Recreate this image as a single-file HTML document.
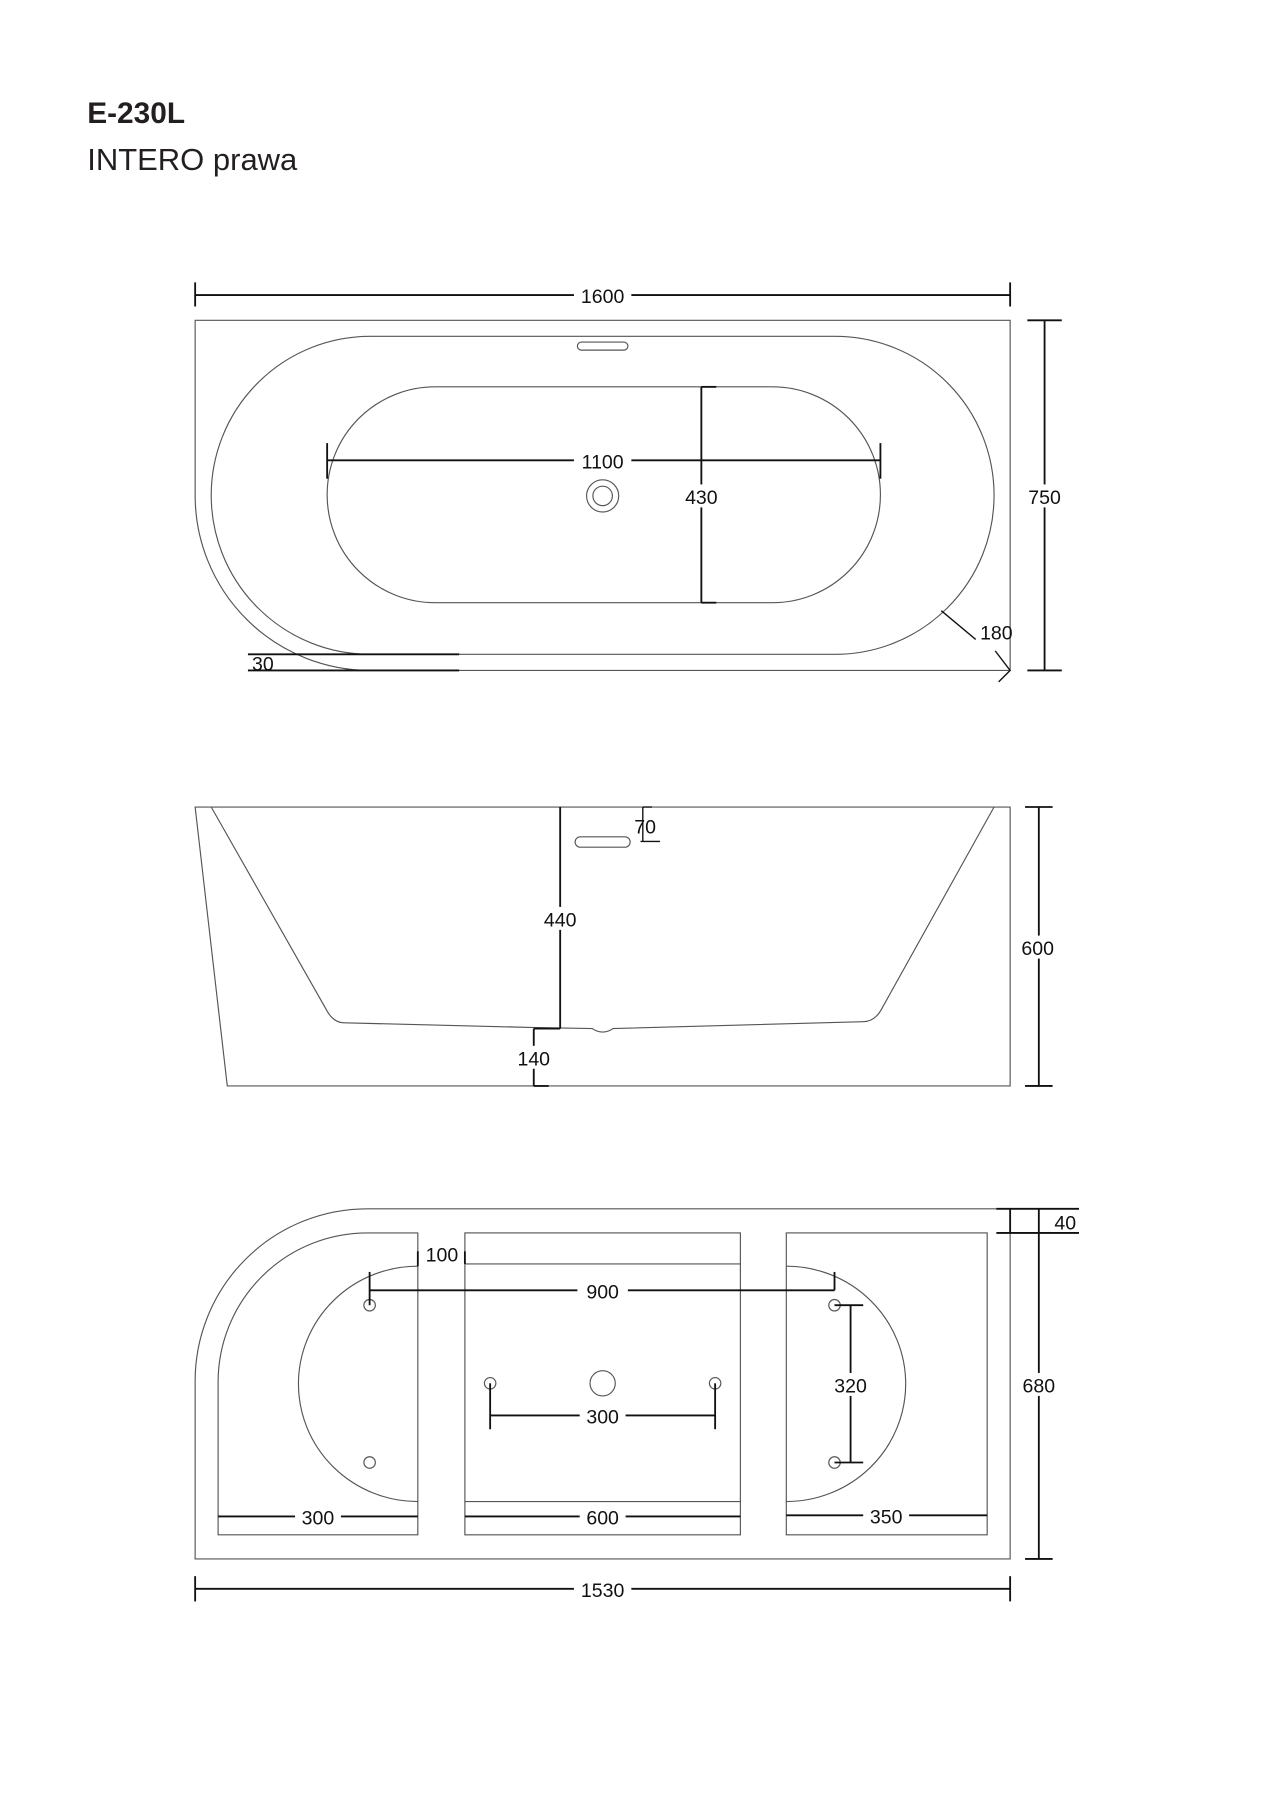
<!DOCTYPE html>
<html><head><meta charset="utf-8"><style>
html,body{margin:0;padding:0;background:#fff;}
svg{display:block;}
text{font-family:"Liberation Sans",sans-serif;}
</style></head><body>
<svg width="1273" height="1800" viewBox="0 0 1109 1568" preserveAspectRatio="none" xmlns="http://www.w3.org/2000/svg">
<rect width="1109" height="1568" fill="#fff"/>
<text x="76" y="107" font-size="26" font-weight="bold" fill="#231f20">E-230L</text>
<text x="76" y="148" font-size="27" fill="#231f20">INTERO prawa</text>

<g fill="none" stroke="#555" stroke-width="1">
<path d="M170,432 L170,279 L880,279 L880,584 L322.5,584 A152.5,152.5 0 0 1 170,432"/>
<path d="M322.5,293 L727.5,293 A138.5,138.5 0 0 1 727.5,570 L322.5,570 A138.5,138.5 0 0 1 322.5,293 Z"/>
<path d="M379,337 L673,337 A94,94 0 0 1 673,525 L379,525 A94,94 0 0 1 379,337 Z"/>
<rect x="503" y="298" width="44" height="7" rx="3.5"/>
<circle cx="525" cy="432" r="14"/><circle cx="525" cy="432" r="8.5"/>

<path d="M170,703 L880,703 L880,946 L198,946 Z"/>
<path d="M184,703 L284,879 Q290,891 300,891 L462,895 L516,896 Q520,899 525,899 Q530,899 534,896 L752,890 Q762,890 768,879 L866,703"/>
<rect x="501" y="729" width="48" height="9" rx="4.5"/>

<path d="M170,1203 A150,150 0 0 1 320,1053 L880,1053 L880,1358 L170,1358 Z"/>
<path d="M190,1204 A130,130 0 0 1 320,1074 L364,1074 L364,1337 L190,1337 Z"/>
<rect x="405" y="1074" width="240" height="263"/>
<line x1="405" y1="1101" x2="645" y2="1101"/>
<line x1="405" y1="1308" x2="645" y2="1308"/>
<rect x="685" y="1074" width="175" height="263"/>
<path d="M364,1103 A104,102.5 0 0 0 364,1308"/>
<path d="M685,1103 A104,102.5 0 0 1 685,1308"/>
<circle cx="322" cy="1137" r="5"/><circle cx="322" cy="1274" r="5"/>
<circle cx="727" cy="1137" r="5"/><circle cx="727" cy="1274" r="5"/>
<circle cx="427" cy="1205" r="5"/><circle cx="623" cy="1205" r="5"/>
<circle cx="525" cy="1205" r="11"/>
</g>

<g fill="none" stroke="#111" stroke-width="1.6">
<line x1="170" y1="257" x2="880" y2="257"/>
<line x1="170" y1="246" x2="170" y2="267"/><line x1="880" y1="246" x2="880" y2="267"/>
<line x1="285" y1="401" x2="767" y2="401"/>
<line x1="285" y1="386" x2="285" y2="417"/><line x1="767" y1="386" x2="767" y2="417"/>
<line x1="611" y1="337" x2="611" y2="525"/>
<line x1="611" y1="337" x2="624" y2="337"/><line x1="611" y1="525" x2="624" y2="525"/>
<line x1="910" y1="279" x2="910" y2="584"/>
<line x1="895" y1="279" x2="925" y2="279"/><line x1="895" y1="584" x2="925" y2="584"/>
<line x1="216" y1="570" x2="400" y2="570"/><line x1="216" y1="584" x2="400" y2="584"/>
<line x1="820" y1="532" x2="850" y2="557" stroke-width="1.2"/>
<polyline points="867,567 880,584 870,594" stroke-width="1.2"/>
<line x1="488" y1="703" x2="488" y2="896"/>
<line x1="560" y1="703" x2="560" y2="733" stroke-width="1.2"/>
<line x1="560" y1="703" x2="568" y2="703" stroke-width="1.2"/>
<line x1="558" y1="733" x2="575" y2="733" stroke-width="1.2"/>
<line x1="465" y1="896" x2="465" y2="946"/>
<line x1="465" y1="896" x2="488" y2="896"/><line x1="465" y1="946" x2="478" y2="946"/>
<line x1="905" y1="703" x2="905" y2="946"/>
<line x1="893" y1="703" x2="917" y2="703"/><line x1="893" y1="946" x2="917" y2="946"/>
<line x1="322" y1="1124" x2="727" y2="1124"/>
<line x1="322" y1="1108" x2="322" y2="1137"/><line x1="727" y1="1108" x2="727" y2="1124"/>
<line x1="364" y1="1090" x2="364" y2="1103"/><line x1="405" y1="1090" x2="405" y2="1101"/>
<line x1="427" y1="1233" x2="623" y2="1233"/>
<line x1="427" y1="1205" x2="427" y2="1245"/><line x1="623" y1="1205" x2="623" y2="1245"/>
<line x1="741" y1="1137" x2="741" y2="1274"/>
<line x1="727" y1="1137" x2="752" y2="1137"/><line x1="727" y1="1274" x2="752" y2="1274"/>
<line x1="190" y1="1321" x2="364" y2="1321"/>
<line x1="405" y1="1321" x2="645" y2="1321"/>
<line x1="685" y1="1320" x2="860" y2="1320"/>
<line x1="868" y1="1053" x2="940" y2="1053"/><line x1="868" y1="1074" x2="940" y2="1074"/>
<line x1="880" y1="1053" x2="880" y2="1074"/>
<line x1="905" y1="1053" x2="905" y2="1358"/>
<line x1="893" y1="1358" x2="917" y2="1358"/>
<line x1="170" y1="1384" x2="880" y2="1384"/>
<line x1="170" y1="1373" x2="170" y2="1395"/><line x1="880" y1="1373" x2="880" y2="1395"/>
</g>

<g font-size="17" fill="#111" text-anchor="middle">
<rect x="500" y="247" width="50" height="20" fill="#fff"/><text x="525" y="264">1600</text>
<rect x="500" y="391" width="50" height="20" fill="#fff"/><text x="525" y="408">1100</text>
<rect x="593" y="422" width="36" height="20" fill="#fff"/><text x="611" y="439">430</text>
<rect x="892" y="422" width="36" height="20" fill="#fff"/><text x="910" y="439">750</text>
<text x="868" y="557">180</text>
<text x="229" y="584">30</text>
<rect x="471" y="790" width="34" height="20" fill="#fff"/><text x="488" y="807">440</text>
<text x="562" y="726">70</text>
<rect x="447" y="911" width="36" height="20" fill="#fff"/><text x="465" y="928">140</text>
<rect x="887" y="815" width="36" height="20" fill="#fff"/><text x="904" y="832">600</text>
<rect x="503" y="1114" width="44" height="20" fill="#fff"/><text x="525" y="1131">900</text>
<text x="385" y="1099">100</text>
<rect x="505" y="1223" width="40" height="20" fill="#fff"/><text x="525" y="1240">300</text>
<rect x="723" y="1196" width="36" height="20" fill="#fff"/><text x="741" y="1213">320</text>
<rect x="257" y="1311" width="40" height="20" fill="#fff"/><text x="277" y="1328">300</text>
<rect x="505" y="1311" width="40" height="20" fill="#fff"/><text x="525" y="1328">600</text>
<rect x="752" y="1310" width="40" height="20" fill="#fff"/><text x="772" y="1327">350</text>
<text x="928" y="1071">40</text>
<rect x="887" y="1196" width="36" height="20" fill="#fff"/><text x="905" y="1213">680</text>
<rect x="500" y="1374" width="50" height="20" fill="#fff"/><text x="525" y="1391">1530</text>
</g>
</svg>
</body></html>
